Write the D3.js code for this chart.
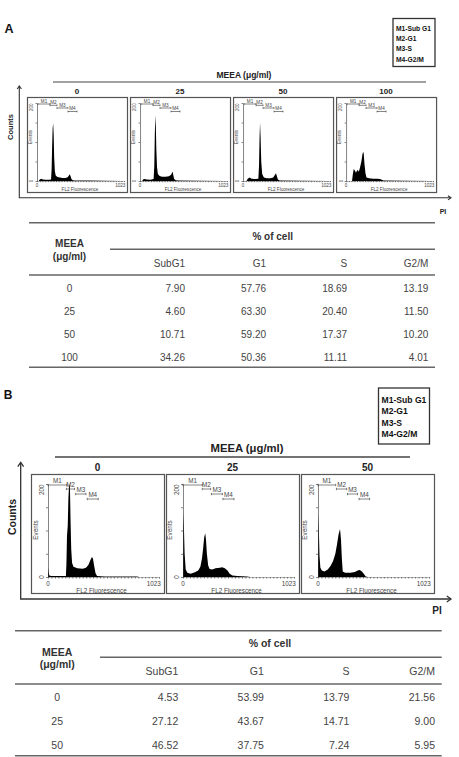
<!DOCTYPE html>
<html><head><meta charset="utf-8">
<script src="https://cdn.jsdelivr.net/npm/d3@7"></script>
<style>body{margin:0;background:#fff}svg{display:block}text{font-family:"Liberation Sans",Arial,sans-serif}</style>
</head><body><svg id="c" width="459" height="757"></svg>
<script>
// ---------- data ----------
const legendItems = ["M1-Sub G1","M2-G1","M3-S","M4-G2/M"];
const phases = ["SubG1","G1","S","G2/M"];
const dosesA = ["0","25","50","100"];
const dosesB = ["0","25","50"];
// Table A values (% of cell)
const subG1A = [7.90, 4.60, 10.71, 34.26];
const g1A    = [57.76, 63.30, 59.20, 50.36];
const sA     = [18.69, 20.40, 17.37, 11.11];
const g2mA   = [13.19, 11.50, 10.20, 4.01];
// Table B values (% of cell)
const subG1B = [4.53, 27.12, 46.52];
const g1B    = [53.99, 43.67, 37.75];
const sB     = [13.79, 14.71, 7.24];
const g2mB   = [21.56, 9.00, 5.95];
// histogram outlines [FL2 channel, events]
const histA0 = [[0,0],[20,0],[30,3],[50,6],[70,4],[100,3],[140,3],[165,4],[172,30],[178,90],[184,135],[190,148],[196,120],[202,60],[210,25],[220,14],[240,10],[270,9],[300,8],[330,8],[355,9],[370,12],[384,17],[395,12],[405,5],[420,2],[440,1],[600,1],[800,0.5],[1000,0]];
const histA25 = [[0,0],[25,0],[35,4],[50,5],[80,4],[120,3],[160,5],[168,40],[174,120],[180,169],[186,140],[192,80],[200,35],[210,18],[230,13],[260,11],[300,11],[340,12],[365,16],[378,22],[384,24],[392,14],[402,5],[420,2],[450,1],[700,0.5],[1000,0]];
const histA50 = [[0,0],[40,0],[55,6],[77,9],[100,6],[140,5],[180,6],[188,40],[194,110],[200,150],[206,115],[214,50],[225,18],[245,9],[280,7],[320,7],[355,9],[372,15],[387,20],[398,12],[410,4],[430,1],[700,0.5],[1000,0]];
const histA100 = [[0,0],[70,0],[80,18],[90,31],[105,26],[116,21],[128,26],[138,28],[150,24],[165,35],[180,50],[192,68],[200,75],[208,70],[216,45],[228,20],[240,9],[270,7],[320,6],[370,6],[400,5],[420,3],[440,1],[700,0.5],[1000,0]];
const histB0 = [[0,0],[1,21],[6,10],[12,3],[30,2],[120,2],[165,2],[170,30],[175,88],[182,110],[188,170],[195,200],[202,195],[208,120],[214,60],[222,30],[235,22],[270,19],[320,18],[350,20],[372,26],[390,36],[405,43],[414,40],[425,25],[438,8],[452,2],[520,1],[820,1],[840,0],[1023,0]];
const histB25 = [[0,0],[2,137],[8,110],[15,50],[25,16],[40,9],[70,7],[110,10],[140,14],[160,22],[175,40],[185,60],[195,85],[205,94],[212,80],[220,50],[232,25],[245,17],[270,16],[300,19],[340,20],[360,21],[385,19],[410,14],[430,7],[455,3],[500,2],[590,1],[620,0],[1023,0]];
const histB50 = [[0,0],[2,136],[8,100],[14,45],[22,20],[35,14],[60,12],[90,16],[117,24],[140,35],[160,50],[175,70],[190,92],[203,103],[212,80],[220,40],[228,12],[250,9],[300,9],[340,11],[365,14],[385,15],[405,12],[425,6],[440,1],[460,0],[1023,0]];
// marker gates [start, end] channels
const markersA = [[12,153],[153,235],[235,364],[364,470]];
const markersB0 = [[0,175],[170,245],[255,350],[362,463]];
const markersB25 = [[0,178],[178,255],[262,363],[368,470]];
const markersB50 = [[0,163],[170,265],[272,364],[378,475]];

// ---------- drawing ----------
const svg = d3.select("#c");
const INK = "#2a2a2a";

function txt(g, x, y, s, o) {
  o = o || {};
  const t = g.append("text").attr("x", x).attr("y", y).text(s)
    .attr("font-size", o.fs || 10).attr("fill", o.fill || INK)
    .attr("font-weight", o.bold ? "bold" : "normal")
    .attr("text-anchor", o.anchor || "middle")
    .attr("dominant-baseline", "central");
  if (o.rot) t.attr("transform", `rotate(${o.rot},${x},${y})`);
  return t;
}

function drawPanel(px, py, L, hist, markers) {
  const g = svg.append("g");
  g.append("rect").attr("x", px + 0.5).attr("y", py + 0.5).attr("width", L.w).attr("height", L.h)
    .attr("fill", "#fff").attr("stroke", "#555").attr("stroke-width", 1.2);
  const x = d3.scaleLinear([0, 1023], [px + L.ox, px + L.ex]);
  const y = d3.scaleLinear([0, 200], [py + L.by, py + L.ty]).clamp(true);
  g.append("path").datum(hist)
    .attr("d", d3.area().x(d => x(d[0])).y0(y(0)).y1(d => y(d[1])))
    .attr("fill", "#000");
  const ya = g.append("g").attr("transform", `translate(${x(0)},0)`)
    .call(d3.axisLeft(y).tickValues([0, 50, 100, 150, 200]).tickSize(L.tick).tickSizeOuter(0).tickFormat(""));
  const xa = g.append("g").attr("transform", `translate(0,${y(0)})`)
    .call(d3.axisBottom(x).tickValues(d3.range(0, 1024, 1023 / 32)).tickSize(L.tick * 0.8).tickSizeOuter(0).tickFormat(""));
  [ya, xa].forEach(a => { a.selectAll("path,line").attr("stroke", "#333").attr("stroke-width", 0.6); });
  xa.select(".domain").attr("stroke-dasharray", "1.2,0.8");
  const fs = L.fs;
  txt(g, x(0) - fs * 1.1, y(200) + fs * 0.9, "200", {fs, rot: -90, fill: "#444"});
  txt(g, x(0) - fs * 1.1, y(0), "0", {fs, rot: -90, fill: "#444"});
  txt(g, x(0), y(0) + fs * 1.0, "0", {fs, fill: "#444"});
  txt(g, x(1023) + fs * 0.3, y(0) + fs * 1.0, "1023", {fs, anchor: "end", fill: "#444"});
  txt(g, px + L.evx, py + L.evy, "Events", {fs, rot: -90, fill: "#444"});
  txt(g, px + L.w * 0.53, py + L.flY, "FL2 Fluorescence", {fs, fill: "#444"});
  markers.forEach((m, i) => {
    const yy = y(200) + L.levels[i];
    const x0 = x(m[0]), x1 = x(m[1]);
    g.append("path").attr("d", `M${x0},${yy - L.tick * 0.6}V${yy + L.tick * 0.6}M${x0},${yy}H${x1}M${x1},${yy - L.tick * 0.6}V${yy + L.tick * 0.6}`)
      .attr("stroke", "#333").attr("stroke-width", 0.6).attr("fill", "none");
    txt(g, (x0 + x1) / 2, yy - fs * 0.65, "M" + (i + 1), {fs, fill: "#444"});
  });
}

function legend(x, y, w, h, fs, lineY) {
  svg.append("rect").attr("x", x).attr("y", y).attr("width", w).attr("height", h)
    .attr("fill", "none").attr("stroke", "#333").attr("stroke-width", 1.3);
  legendItems.forEach((s, i) => txt(svg, x + 3, lineY[i], s, {fs, bold: true, anchor: "start", fill: "#111"}));
}

function axesArrow(xv, top, yh, tip, lw, ah) {
  svg.append("path").attr("d", `M${xv},${top}V${yh}H${tip}`).attr("fill", "none").attr("stroke", "#333").attr("stroke-width", lw);
  svg.append("path").attr("d", `M${xv - ah * 0.7},${top + ah}L${xv},${top}L${xv + ah * 0.7},${top + ah}`).attr("fill", "none").attr("stroke", "#333").attr("stroke-width", lw);
  svg.append("path").attr("d", `M${tip - ah},${yh - ah * 0.7}L${tip},${yh}L${tip - ah},${yh + ah * 0.7}`).attr("fill", "none").attr("stroke", "#333").attr("stroke-width", lw);
}

function drawTable(T, doses, cols) {
  const line = (x0, x1, yy) => svg.append("line").attr("x1", x0).attr("x2", x1).attr("y1", yy).attr("y2", yy)
    .attr("stroke", "#666").attr("stroke-width", 1.4);
  line(T.x0, T.x1, T.top); line(T.subx0, T.x1, T.mid); line(T.x0, T.x1, T.hdr); line(T.x0, T.x1, T.bot);
  const fs = T.fs;
  txt(svg, T.meeaX, T.meeaY, "MEEA", {fs, bold: true, fill: "#333"});
  txt(svg, T.meeaX, T.unitY, "(μg/ml)", {fs, bold: true, fill: "#333"});
  txt(svg, T.pctX, T.pctY, "% of cell", {fs, bold: true, fill: "#333"});
  const cx = d3.scalePoint().domain(phases).range(T.colR);
  const ry = d3.scalePoint().domain(doses).range(T.rowR);
  phases.forEach(p => txt(svg, cx(p), T.subY, p, {fs, anchor: "end", fill: "#444"}));
  doses.forEach((d, r) => {
    txt(svg, T.meeaX, ry(d), d, {fs, fill: "#444"});
    cols.forEach((c, k) => txt(svg, cx(phases[k]), ry(d), c[r].toFixed(2), {fs, anchor: "end", fill: "#444"}));
  });
}

// ===== Panel A =====
txt(svg, 9, 28.5, "A", {fs: 12.5, bold: true, fill: "#111"});
legend(393, 18.5, 42, 48, 6.7, [28.5, 38.3, 48.3, 59]);
txt(svg, 244, 75, "MEEA (μg/ml)", {fs: 8.5, bold: true, fill: "#222"});
svg.append("line").attr("x1", 53).attr("x2", 426).attr("y1", 82).attr("y2", 82).attr("stroke", "#444").attr("stroke-width", 1.2);
axesArrow(19.3, 86, 197.8, 451, 1.1, 3);
txt(svg, 10, 127, "Counts", {fs: 7.5, bold: true, rot: -90, fill: "#222"});
txt(svg, 443, 211.5, "PI", {fs: 7, bold: true, fill: "#222"});
const LA = {w: 100, h: 95, ox: 10, ex: 97, ty: 6, by: 84, fs: 4.6, levels: [1, 2.3, 5, 8.5], tick: 1.5, evx: 3, evy: 40, flY: 92.5};
const bandA = d3.scaleBand().domain(dosesA).range([27, 436]).paddingInner(0.03);
const histsA = [histA0, histA25, histA50, histA100];
dosesA.forEach((d, i) => {
  txt(svg, bandA(d) + bandA.bandwidth() / 2, 91, d, {fs: 8, bold: true, fill: "#222"});
  drawPanel(bandA(d), 97, LA, histsA[i], markersA);
});
drawTable({x0: 29, x1: 435, subx0: 110, top: 222.7, mid: 249.3, hdr: 275, bot: 367.3,
  meeaX: 69.5, meeaY: 243.3, unitY: 256, pctX: 272.7, pctY: 236, subY: 263.3,
  colR: [185, 428.3], rowR: [288.5, 357], fs: 10}, dosesA, [subG1A, g1A, sA, g2mA]);

// ===== Panel B =====
txt(svg, 8, 395, "B", {fs: 12, bold: true, fill: "#111"});
legend(378.5, 388, 51, 56, 8.6, [399.5, 411, 422.5, 434]);
txt(svg, 247, 448, "MEEA (μg/ml)", {fs: 11.3, bold: true, fill: "#222"});
svg.append("line").attr("x1", 55).attr("x2", 410).attr("y1", 457).attr("y2", 457).attr("stroke", "#444").attr("stroke-width", 1.3);
axesArrow(20.7, 462.5, 599, 451, 1.3, 4.2);
txt(svg, 12, 517, "Counts", {fs: 10.5, bold: true, rot: -90, fill: "#222"});
txt(svg, 437, 610, "PI", {fs: 10, bold: true, fill: "#222"});
const LB = {w: 133, h: 119, ox: 17, ex: 128, ty: 10, by: 103, fs: 6.3, levels: [1, 5, 10, 15], tick: 2, evx: 4, evy: 56, flY: 116};
const bandB = d3.scaleBand().domain(dosesB).range([31, 434]).paddingInner(0.0148);
const histsB = [histB0, histB25, histB50];
const marksB = [markersB0, markersB25, markersB50];
dosesB.forEach((d, i) => {
  txt(svg, bandB(d) + bandB.bandwidth() / 2, 467, d, {fs: 10, bold: true, fill: "#222"});
  drawPanel(bandB(d), 474, LB, histsB[i], marksB[i]);
});
drawTable({x0: 15, x1: 441.7, subx0: 100, top: 630.7, mid: 657.3, hdr: 684, bot: 755.7,
  meeaX: 57.2, meeaY: 651.7, unitY: 664, pctX: 270, pctY: 643.3, subY: 670.7,
  colR: [178.3, 435], rowR: [697.3, 745], fs: 10.5}, dosesB, [subG1B, g1B, sB, g2mB]);
</script></body></html>
